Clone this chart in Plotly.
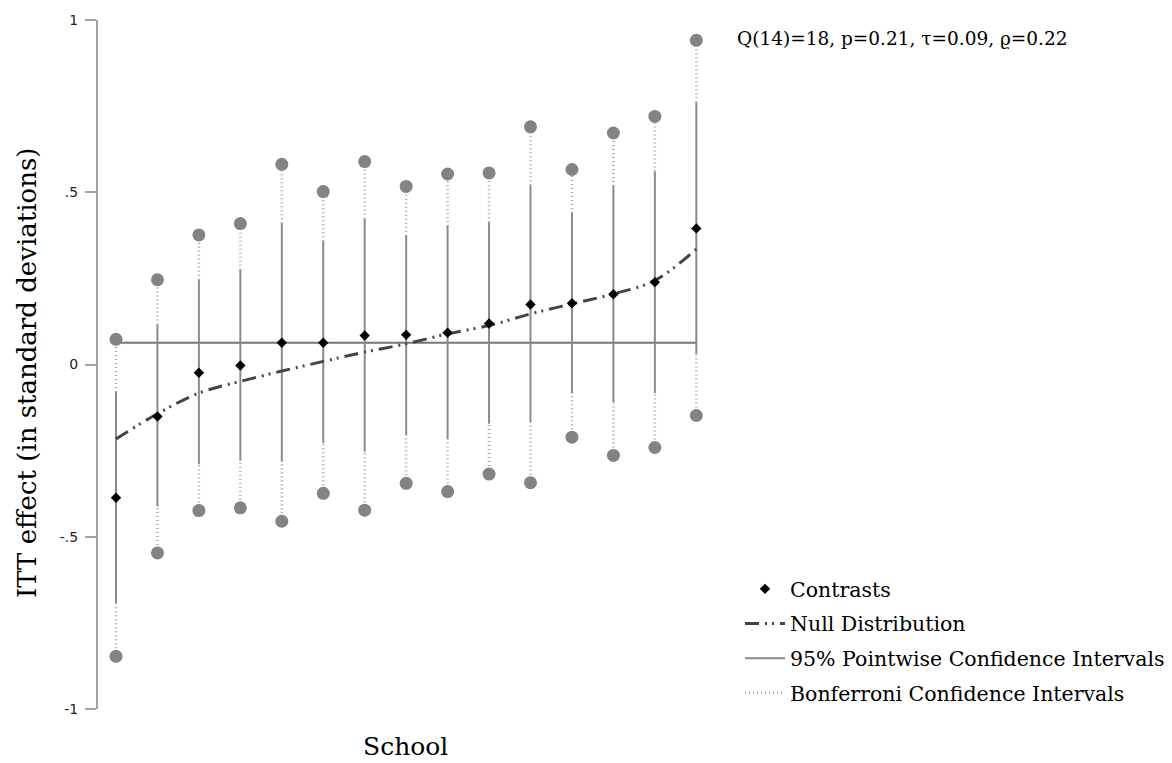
import plotly.graph_objects as go

# School-level ITT contrasts (sorted), with pointwise and Bonferroni intervals
schools = list(range(1, 16))
contrast = [-0.387, -0.151, -0.024, -0.003, 0.063, 0.063, 0.084, 0.086,
            0.092, 0.119, 0.174, 0.178, 0.204, 0.239, 0.395]
pw_lo = [-0.692, -0.412, -0.290, -0.279, -0.282, -0.228, -0.253, -0.206,
         -0.216, -0.172, -0.169, -0.083, -0.109, -0.083, 0.031]
pw_hi = [-0.080, 0.116, 0.246, 0.275, 0.410, 0.358, 0.423, 0.374,
         0.402, 0.413, 0.520, 0.440, 0.518, 0.560, 0.761]
bonf_lo = [-0.847, -0.547, -0.424, -0.416, -0.455, -0.374, -0.423, -0.345,
           -0.369, -0.318, -0.343, -0.211, -0.264, -0.241, -0.148]
bonf_hi = [0.073, 0.246, 0.376, 0.409, 0.581, 0.502, 0.589, 0.517,
           0.553, 0.556, 0.690, 0.566, 0.672, 0.720, 0.941]
null_quantiles = [-0.216, -0.143, -0.083, -0.049, -0.019, 0.009, 0.036, 0.060,
                  0.089, 0.113, 0.147, 0.176, 0.205, 0.244, 0.335]
pooled_effect = 0.063

y_tick_vals = [-1, -0.5, 0, 0.5, 1]
y_tick_text = ["-1", "-.5", "0", ".5", "1"]

stats_text = "Q(14)=18, p=0.21, \u03c4=0.09, \u03f1=0.22"

SERIF = "DejaVu Serif"


def segments(xs, lo, hi):
    """Build x/y arrays of vertical segments separated by gaps."""
    sx, sy = [], []
    for x, a, b in zip(xs, lo, hi):
        sx += [x, x, None]
        sy += [a, b, None]
    return sx, sy


fig = go.Figure()

# Pooled effect reference line
fig.add_trace(go.Scatter(
    x=[schools[0], schools[-1]], y=[pooled_effect, pooled_effect],
    mode="lines", line=dict(color="#767676", width=2),
    showlegend=False, hoverinfo="skip"))

# Bonferroni intervals: dotted extensions beyond the pointwise intervals
bx1, by1 = segments(schools, bonf_lo, pw_lo)
bx2, by2 = segments(schools, pw_hi, bonf_hi)
fig.add_trace(go.Scatter(
    x=bx1 + bx2, y=by1 + by2, mode="lines",
    line=dict(color="#a8a8a8", width=2.5, dash="1px,3px"),
    name="Bonferroni Confidence Intervals", legendrank=4,
    legendgroup="bonf"))

# 95% pointwise intervals
px_, py_ = segments(schools, pw_lo, pw_hi)
fig.add_trace(go.Scatter(
    x=px_, y=py_, mode="lines",
    line=dict(color="#8a8a8a", width=2),
    name="95% Pointwise Confidence Intervals", legendrank=3,
    legendgroup="pw"))

# Bonferroni interval end points
fig.add_trace(go.Scatter(
    x=schools + schools, y=bonf_lo + bonf_hi, mode="markers",
    marker=dict(symbol="circle", size=13, color="#838383"),
    showlegend=False, hoverinfo="skip"))

# Null distribution quantiles
fig.add_trace(go.Scatter(
    x=schools, y=null_quantiles, mode="lines",
    line=dict(color="#454545", width=3, shape="spline",
              dash="14px,6px,2px,5px,2px,6px"),
    name="Null Distribution", legendrank=2, legendgroup="null"))

# Observed contrasts
fig.add_trace(go.Scatter(
    x=schools, y=contrast, mode="markers",
    marker=dict(symbol="diamond", size=8, color="black"),
    name="Contrasts", legendrank=1, legendgroup="contrast"))

fig.update_layout(
    width=1172, height=763,
    margin=dict(l=98, r=457, t=20, b=54),
    paper_bgcolor="white", plot_bgcolor="white",
    showlegend=True,
    legend=dict(
        xref="container", yref="container",
        x=740 / 1172, y=1 - 569 / 763, xanchor="left", yanchor="top",
        font=dict(family=SERIF, size=20.5, color="black"),
        tracegroupgap=5, bgcolor="rgba(0,0,0,0)", itemwidth=40),
    xaxis=dict(range=[0.5657, 15.451], visible=False),
    yaxis=dict(
        range=[-1, 1], tickmode="array", tickvals=y_tick_vals,
        ticktext=y_tick_text, showgrid=False, zeroline=False,
        showline=True, linecolor="#a3a3a3", linewidth=2,
        ticks="outside", ticklen=11, tickwidth=2, tickcolor="#a3a3a3",
        tickfont=dict(family="DejaVu Sans", size=14, color="#222222"),
        ticklabelstandoff=4),
    annotations=[
        dict(text="ITT effect (in standard deviations)", textangle=-90,
             xref="paper", yref="paper", x=(27 - 98) / 617, y=(709 - 373) / 689,
             xanchor="center", yanchor="middle", showarrow=False,
             font=dict(family=SERIF, size=26, color="black")),
        dict(text="School", xref="paper", yref="paper",
             x=(405 - 98) / 617, y=(709 - 746) / 689,
             xanchor="center", yanchor="middle", showarrow=False,
             font=dict(family=SERIF, size=25, color="black")),
        dict(text=stats_text, xref="paper", yref="paper",
             x=(735 - 98) / 617, y=(709 - 38) / 689,
             xanchor="left", yanchor="middle", showarrow=False,
             font=dict(family=SERIF, size=18.5, color="black")),
    ],
)

fig.write_html("out.html")
